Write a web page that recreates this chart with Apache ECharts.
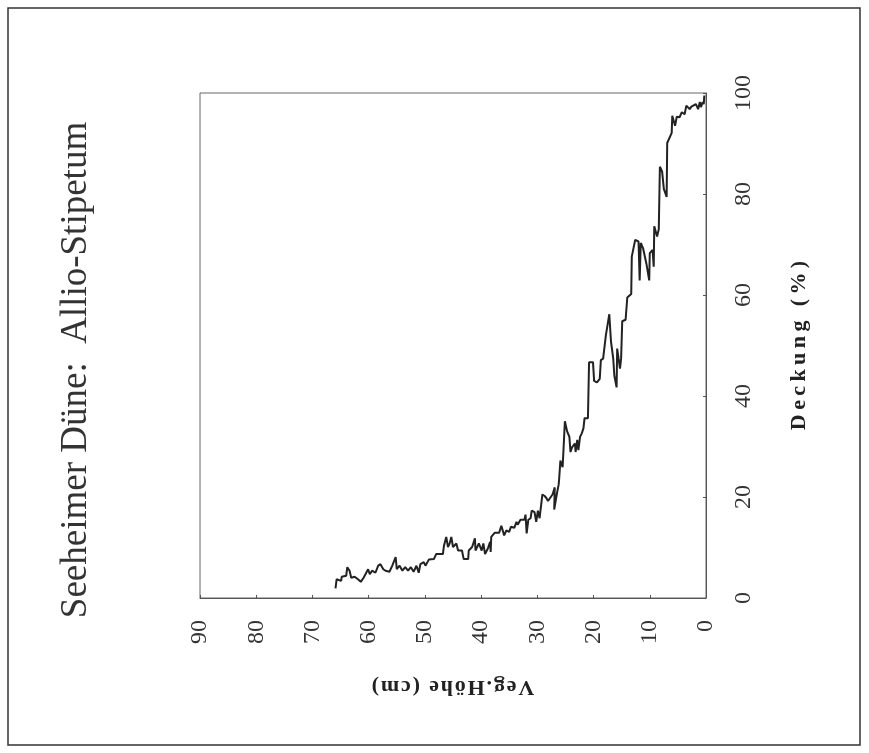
<!DOCTYPE html>
<html>
<head>
<meta charset="utf-8">
<title>Seeheimer Düne: Allio-Stipetum</title>
<script src="https://cdn.jsdelivr.net/npm/echarts@6/dist/echarts.min.js"></script>
<style>
  html, body { margin: 0; padding: 0; background: #fff; }
  #chart { width: 869px; height: 753px; }
</style>
</head>
<body>
<div id="chart"></div>
<script>
// Veg.Höhe (cm) and Deckung (%) along the traced line
var vegHoehe = [65.9, 65.7, 64.9, 64.8, 64.0, 63.8, 63.4, 63.1, 62.5, 61.9, 61.4, 60.9, 60.6, 60.1, 59.8, 59.4, 58.8, 58.3, 57.9, 57.4,
  57.0, 56.3, 55.8, 55.2, 55.0, 54.5, 54.0, 53.5, 53.0, 52.5, 52.0, 51.5, 51.1, 50.8, 50.2, 49.9, 49.3, 48.4, 48.0, 46.8,
  46.6, 46.2, 45.9, 45.6, 45.3, 45.0, 44.4, 44.1, 43.4, 43.1, 42.3, 42.2, 41.6, 41.1, 41.0, 40.4, 39.9, 39.6, 39.3, 38.8,
  38.4, 38.3, 38.2, 37.6, 36.8, 36.4, 36.1, 35.9, 35.5, 35.0, 34.7, 34.1, 33.7, 33.5, 33.0, 32.3, 32.1, 31.9, 31.6, 31.2,
  31.0, 30.5, 30.2, 29.9, 29.6, 29.3, 29.1, 28.7, 28.4, 28.1, 27.3, 26.9, 27.0, 26.5, 26.2, 26.1, 25.9, 25.5, 25.1, 24.7,
  24.3, 24.1, 23.8, 23.3, 23.2, 22.9, 22.7, 22.4, 22.1, 21.8, 21.6, 21.0, 20.8, 20.1, 19.9, 19.4, 18.9, 18.7, 18.3, 17.8,
  17.2, 16.9, 16.5, 16.3, 15.9, 15.8, 15.3, 15.1, 14.9, 14.3, 14.0, 13.3, 13.2, 12.6, 12.0, 11.8, 11.6, 11.2, 10.6, 10.1,
  10.0, 9.5, 9.3, 9.2, 8.7, 8.4, 8.2, 7.8, 7.5, 7.0, 6.9, 6.1, 6.0, 5.5, 5.2, 4.7, 4.3, 3.8, 3.5, 2.9,
  2.6, 2.3, 1.8, 1.4, 1.1, 0.9, 0.6, 0.4, 0.3];
var deckung = [1.9, 3.7, 3.4, 4.2, 4.4, 6.1, 5.4, 4.0, 4.2, 3.7, 3.2, 4.0, 3.7, 5.7, 4.7, 5.4, 5.0, 6.4, 6.7, 5.7,
  5.4, 5.2, 6.4, 8.1, 5.7, 6.4, 5.4, 6.1, 5.4, 6.1, 5.2, 6.4, 5.0, 6.7, 7.1, 6.4, 7.6, 7.7, 8.7, 8.7,
  10.4, 12.1, 10.1, 10.8, 12.1, 10.1, 10.8, 9.4, 9.4, 7.7, 7.7, 9.4, 10.1, 11.8, 9.4, 10.8, 9.4, 10.8, 8.7, 9.8,
  11.1, 9.1, 12.1, 12.9, 12.9, 14.3, 14.3, 12.4, 13.4, 13.1, 14.1, 13.9, 15.1, 14.5, 15.5, 15.5, 16.5, 12.8, 15.5, 15.8,
  17.3, 17.0, 15.1, 17.3, 15.8, 15.8, 20.5, 20.2, 19.8, 19.2, 20.5, 21.9, 17.5, 20.8, 22.5, 23.9, 27.2, 25.9, 35.0, 33.0,
  31.9, 28.9, 29.9, 30.6, 28.9, 31.3, 29.3, 31.9, 32.6, 33.6, 35.6, 35.6, 46.7, 46.7, 43.0, 42.7, 43.4, 47.1, 47.4, 52.1,
  56.2, 50.8, 47.4, 44.0, 41.7, 49.4, 45.4, 47.4, 54.8, 55.1, 59.5, 60.2, 67.6, 70.9, 70.6, 62.9, 70.3, 69.3, 66.2, 62.9,
  68.3, 68.9, 65.6, 73.6, 71.6, 73.0, 85.4, 84.4, 81.0, 79.4, 90.1, 92.1, 95.5, 93.5, 95.3, 95.2, 96.2, 95.8, 97.5, 96.8,
  97.3, 97.5, 97.8, 96.8, 98.2, 97.2, 98.2, 97.8, 99.5];

var titleText = 'Seeheimer Düne:  Allio-Stipetum';
// the scan's axis titles are letter-spaced, so thin / hair spaces sit between the letters
var xName = 'V\u200Ae\u200Ag\u200A.\u200AH\u200Aö\u200Ah\u200Ae\u200A \u200A(\u200Ac\u200Am\u200A)';
var yName = 'D\u2009e\u2009c\u2009k\u2009u\u2009n\u2009g\u2009 \u2009(\u2009%\u2009)';

var serif = "'Liberation Serif', 'Times New Roman', serif";

var points = vegHoehe.map(function (h, i) { return [h, deckung[i]]; });

var chart = echarts.init(document.getElementById('chart'), null, { renderer: 'canvas' });

var option = {
  backgroundColor: '#ffffff',
  animation: false,
  grid: {
    left: 200, right: 163, top: 93, bottom: 155,
    show: true, borderColor: '#666', borderWidth: 1
  },
  xAxis: {
    type: 'value', min: 0, max: 90, interval: 10, inverse: true,
    name: xName, nameLocation: 'middle', nameGap: 78, nameRotate: 180,
    nameTextStyle: { fontFamily: serif, fontWeight: 'bold', fontSize: 22, color: '#222' },
    axisLine: { show: true, lineStyle: { color: '#555', width: 1 } },
    axisTick: { show: true, inside: true, length: 3, lineStyle: { color: '#555' } },
    axisLabel: { rotate: 90, margin: 22, fontFamily: serif, fontSize: 24, color: '#333' },
    splitLine: { show: false }
  },
  yAxis: {
    type: 'value', position: 'right', min: 0, max: 100, interval: 20,
    name: yName, nameLocation: 'middle', nameGap: 82, nameRotate: 90,
    nameTextStyle: { fontFamily: serif, fontWeight: 'bold', fontSize: 22, color: '#222' },
    axisLine: { show: true, lineStyle: { color: '#555', width: 1 } },
    axisTick: { show: true, inside: true, length: 3, lineStyle: { color: '#555' } },
    axisLabel: { rotate: 90, margin: 26, fontFamily: serif, fontSize: 24, color: '#333' },
    splitLine: { show: false }
  },
  graphic: [
    {
      type: 'rect', z: -1,
      shape: { x: 8, y: 8, width: 852, height: 737 },
      style: { fill: 'none', stroke: '#333', lineWidth: 1.5 }
    },
    {
      type: 'text', x: 76, y: 370, rotation: Math.PI / 2,
      style: {
        text: titleText, align: 'center', verticalAlign: 'middle',
        fontFamily: serif, fontSize: 37, fill: '#333'
      }
    }
  ],
  series: [{
    type: 'line',
    data: points,
    showSymbol: false,
    lineStyle: { color: '#222', width: 2 }
  }]
};

chart.setOption(option);
</script>
</body>
</html>
